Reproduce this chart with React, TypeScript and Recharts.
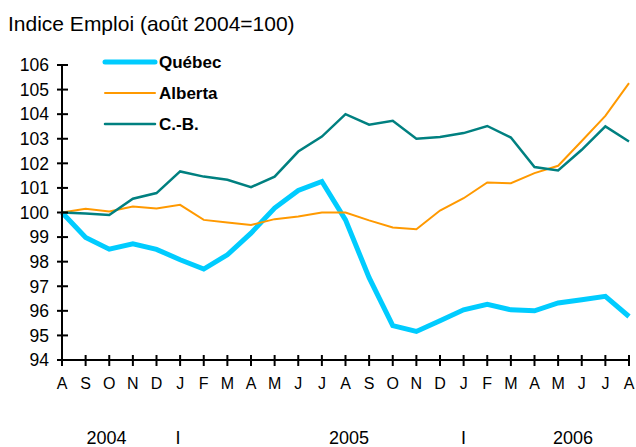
import { LineChart, Line, XAxis, YAxis, Legend } from "recharts";

const months = ["A", "S", "O", "N", "D", "J", "F", "M", "A", "M", "J", "J", "A", "S", "O", "N", "D", "J", "F", "M", "A", "M", "J", "J", "A"];
const quebec = [100, 98.98, 98.51, 98.73, 98.5, 98.08, 97.7, 98.28, 99.16, 100.18, 100.9, 101.26, 99.7, 97.35, 95.4, 95.16, 95.6, 96.04, 96.27, 96.04, 96.0, 96.32, 96.45, 96.59, 95.77];
const alberta = [100, 100.15, 100.04, 100.24, 100.16, 100.31, 99.7, 99.59, 99.49, 99.73, 99.84, 100.0, 100.0, 99.68, 99.39, 99.32, 100.08, 100.58, 101.22, 101.19, 101.6, 101.9, 102.91, 103.93, 105.26];
const cb = [100, 99.96, 99.9, 100.56, 100.79, 101.67, 101.46, 101.33, 101.03, 101.46, 102.48, 103.09, 104.0, 103.57, 103.73, 103.0, 103.07, 103.23, 103.52, 103.05, 101.85, 101.71, 102.55, 103.5, 102.89];
const yTicks = [94, 95, 96, 97, 98, 99, 100, 101, 102, 103, 104, 105, 106];
const yearPos = [1.88, 4.91, 12.15, 16.99, 21.63];
const yearText = ["2004", "I", "2005", "I", "2006"];

const series = [
  { key: "quebec", name: "Québec", color: "#00CCFF", width: 5 },
  { key: "alberta", name: "Alberta", color: "#FF9900", width: 2 },
  { key: "cb", name: "C.-B.", color: "#008080", width: 2.5 },
];

const data = months.map((m, i) => ({ i, m, quebec: quebec[i], alberta: alberta[i], cb: cb[i] }));

const FONT = "'Liberation Sans', Arial, sans-serif";

function YTick(props: any) {
  const { x, y, payload } = props;
  return (
    <g>
      <line x1={x - 5} x2={x + 6} y1={y} y2={y} stroke="#000" strokeWidth={2} />
      <text x={x - 13} y={y} dy="0.36em" textAnchor="end" fontSize={17.5} fontFamily={FONT} fill="#000">
        {payload.value}
      </text>
    </g>
  );
}

function XTick(props: any) {
  const { x, y, payload } = props;
  return (
    <g>
      <line x1={x} x2={x} y1={y - 5} y2={y + 6} stroke="#000" strokeWidth={2} />
      <text x={x} y={y + 29} textAnchor="middle" fontSize={16} fontFamily={FONT} fill="#000">
        {months[payload.value]}
      </text>
    </g>
  );
}

function YearTick(props: any) {
  const { x, y, index } = props;
  return (
    <text x={x} y={y + 44} textAnchor="middle" fontSize={18} fontFamily={FONT} fill="#000">
      {yearText[index]}
    </text>
  );
}

function LegendBox() {
  return (
    <svg width={160} height={90}>
      {series.map((s, k) => (
        <g key={s.key}>
          <line x1={5} x2={55} y1={12 + k * 31} y2={12 + k * 31} stroke={s.color} strokeWidth={s.width} strokeLinecap="round" />
          <text x={59} y={12 + k * 31} dy="0.36em" fontSize={17} fontWeight="bold" fontFamily={FONT} fill="#000">
            {s.name}
          </text>
        </g>
      ))}
    </svg>
  );
}

export default function App() {
  return (
    <div style={{ position: "absolute", left: 0, top: 0, width: 636, height: 447, background: "#fff", fontFamily: FONT }}>
      <svg width={636} height={40} style={{ position: "absolute", left: 0, top: 0 }}>
        <text x={8} y={31} fontSize={21} fontFamily={FONT} fill="#000">
          Indice Emploi (août 2004=100)
        </text>
      </svg>
      <LineChart width={636} height={447} data={data} margin={{ top: 65, right: 7, bottom: 0, left: 0 }}>
        <XAxis
          dataKey="i"
          type="number"
          domain={[0, 24]}
          ticks={months.map((_, i) => i)}
          interval={0}
          height={40}
          tickSize={0}
          tickMargin={0}
          tick={<XTick />}
          axisLine={{ stroke: "#000", strokeWidth: 2 }}
          tickLine={false}
        />
        <XAxis
          xAxisId="yr"
          dataKey="i"
          type="number"
          domain={[0, 24]}
          ticks={yearPos}
          interval={0}
          height={47}
          tickSize={0}
          tickMargin={0}
          tick={<YearTick />}
          axisLine={false}
          tickLine={false}
        />
        <YAxis
          width={62}
          domain={[94, 106]}
          ticks={yTicks}
          interval={0}
          tickSize={0}
          tickMargin={0}
          tick={<YTick />}
          axisLine={{ stroke: "#000", strokeWidth: 2 }}
          tickLine={false}
        />
        <Legend
          layout="vertical"
          align="center"
          verticalAlign="middle"
          content={<LegendBox />}
          wrapperStyle={{ position: "absolute", left: 100, top: 50, width: 160, height: 90 }}
        />
        {series.map((s) => (
          <Line
            key={s.key}
            dataKey={s.key}
            name={s.name}
            stroke={s.color}
            strokeWidth={s.width}
            dot={false}
            type="linear"
            isAnimationActive={false}
          />
        ))}
      </LineChart>
    </div>
  );
}
